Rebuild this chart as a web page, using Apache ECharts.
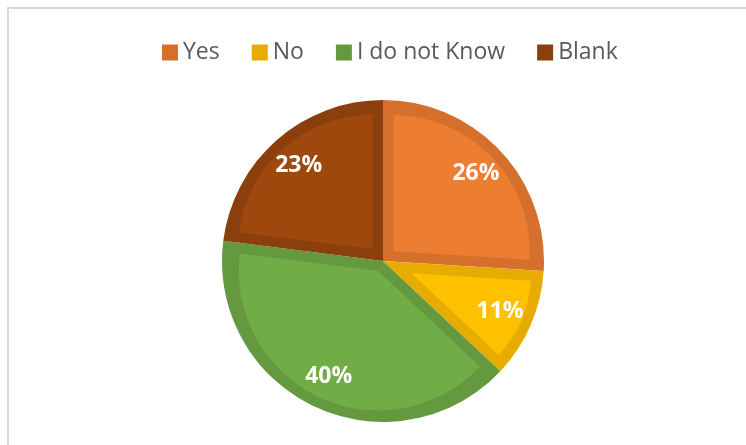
<!DOCTYPE html>
<html>
<head>
<meta charset="utf-8">
<script src="https://cdn.jsdelivr.net/npm/echarts@6/dist/echarts.min.js"></script>
<style>
  html, body { margin: 0; padding: 0; background: #ffffff; }
  #frame {
    position: absolute; left: 7px; top: 7px; right: 0; bottom: 0;
    border-top: 2px solid #d9d9d9; border-left: 2px solid #d9d9d9;
  }
  #chart { position: absolute; left: 0; top: 0; width: 746px; height: 445px; }
</style>
</head>
<body>
<div id="frame"></div>
<div id="chart"></div>
<script>
// Survey answers, in percent
const categories = ['Yes', 'No', 'I do not Know', 'Blank'];
const values = [26, 11, 40, 23];

// Slice fills and their darker outlines
const fillColors = ['#ED7D31', '#FFC000', '#70AD47', '#9E480E'];
const edgeColors = ['#D5702C', '#E6AD00', '#64993F', '#8B3F0D'];

// Pie geometry (pixels)
const CX = 383, CY = 261, R = 161, EDGE = 10.5;

const chart = echarts.init(document.getElementById('chart'));

// Outline layer: full pie in the darker tones
const edgeSeries = {
  type: 'pie',
  name: 'edge',
  center: [CX, CY],
  radius: R,
  startAngle: 90,
  clockwise: true,
  silent: true,
  label: { show: false },
  labelLine: { show: false },
  emphasis: { disabled: true },
  data: categories.map((c, i) => ({ name: c, value: values[i], itemStyle: { color: edgeColors[i] } }))
};

// Inner fill of each slice: the same pie, shifted along the slice bisector
// so every side of the slice keeps an even outline band.
const total = values.reduce((a, b) => a + b, 0);
let acc = 0;
const fillSeries = values.map((v, k) => {
  const a0 = acc / total * 2 * Math.PI;
  acc += v;
  const a1 = acc / total * 2 * Math.PI;
  const half = (a1 - a0) / 2, mid = (a0 + a1) / 2;
  const d = half < Math.PI / 2 ? EDGE / Math.sin(half) : EDGE;
  return {
    type: 'pie',
    name: 'fill' + k,
    center: [CX + d * Math.sin(mid), CY - d * Math.cos(mid)],
    radius: R - EDGE - d,
    startAngle: 90,
    clockwise: true,
    silent: true,
    label: { show: false },
    labelLine: { show: false },
    emphasis: { disabled: true },
    data: categories.map((c, i) => ({
      name: c, value: values[i],
      itemStyle: { color: i === k ? fillColors[k] : 'rgba(0,0,0,0)' }
    }))
  };
});

// Percentage labels
const labelSeries = {
  type: 'pie',
  name: 'labels',
  center: [CX, CY],
  radius: [88, R],
  startAngle: 90,
  clockwise: true,
  silent: true,
  labelLine: { show: false },
  emphasis: { disabled: true },
  label: {
    show: true,
    position: 'inside',
    formatter: p => p.value + '%',
    color: '#ffffff',
    fontFamily: 'Open Sans',
    fontWeight: 'bold',
    fontSize: 23
  },
  data: categories.map((c, i) => ({ name: c, value: values[i], itemStyle: { color: 'rgba(0,0,0,0)' } }))
};

chart.setOption({
  animation: false,
  backgroundColor: 'transparent',
  legend: {
    data: categories,
    left: 157,
    top: 36,
    icon: 'rect',
    itemWidth: 16,
    itemHeight: 16,
    itemGap: 32,
    textStyle: { color: '#595959', fontFamily: 'Open Sans', fontSize: 23 }
  },
  series: [edgeSeries].concat(fillSeries, [labelSeries])
});
</script>
</body>
</html>
